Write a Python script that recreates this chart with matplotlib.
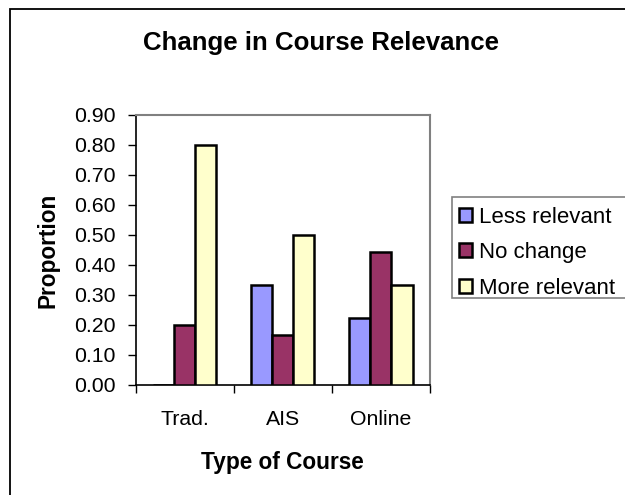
import matplotlib
matplotlib.use("Agg")
import matplotlib.pyplot as plt
from matplotlib.patches import Rectangle
import numpy as np

categories = ["Trad.", "AIS", "Online"]
series_names = ["Less relevant", "No change", "More relevant"]
less_relevant = [0.0, 0.333, 0.222]
no_change = [0.20, 0.167, 0.444]
more_relevant = [0.80, 0.50, 0.333]
yticks = [0.0, 0.1, 0.2, 0.3, 0.4, 0.5, 0.6, 0.7, 0.8, 0.9]

colors = ["#9999FF", "#993366", "#FFFFCC"]

plt.rcParams["font.family"] = ["Liberation Sans", "DejaVu Sans"]

W, H = 625, 495
fig = plt.figure(figsize=(W / 100, H / 100), dpi=100)
fig.patch.set_facecolor("white")

# outer chart border (left and top visible)
fig.patches.append(Rectangle((9.5 / W, -0.2), 1.2, 1.2 - 9 / H,
                             transform=fig.transFigure, fill=False,
                             edgecolor="black", lw=1.3, clip_on=False))

ax = fig.add_axes([135.5 / W, 1 - 385 / H, (430 - 135.5) / W, (385 - 115) / H])

x = np.arange(len(categories))
bw = 0.215
series = [less_relevant, no_change, more_relevant]
for i, (vals, name, c) in enumerate(zip(series, series_names, colors)):
    ax.bar(x + (i - 1) * bw, vals, width=bw, color=c, edgecolor="black",
           linewidth=1.8, label=name, zorder=3)

ax.set_xlim(-0.5, 2.5)
ax.set_ylim(0, 0.9)
ax.set_yticks(yticks)
ax.set_yticklabels([f"{v:.2f}" for v in yticks], fontsize=15.3)
ax.set_xticks([-0.5, 0.5, 1.5, 2.5])
ax.set_xticklabels([])
ax.set_xticks(x, minor=True)
ax.set_xticklabels(categories, minor=True, fontsize=15.3)
ax.tick_params(axis="x", which="minor", length=0, pad=18)
ax.tick_params(axis="x", which="major", length=6, width=1, direction="out", color="black")
ax.tick_params(axis="y", length=6, width=1, direction="out", pad=8.5)

for s in ["left", "bottom"]:
    ax.spines[s].set_color("black")
    ax.spines[s].set_linewidth(1.2)
for s in ["top", "right"]:
    ax.spines[s].set_color("#808080")
    ax.spines[s].set_linewidth(1.5)

ax.set_ylabel("Proportion", fontsize=16.3, fontweight="bold")
ax.yaxis.set_label_coords((59 - 135.5) / 294.5, 0.5)
ax.set_xlabel("Type of Course", fontsize=16.3, fontweight="bold")
ax.xaxis.set_label_coords(0.5, (385 - 451) / 270)

fig.text(321 / W, 1 - 43 / H, "Change in Course Relevance", ha="center", va="center",
         fontsize=18.6, fontweight="bold")

# legend frame (extends past the right edge, as in the reference)
fig.patches.append(Rectangle((452 / W, 1 - 298 / H), 300 / W, 101 / H,
                             transform=fig.transFigure, fill=True,
                             facecolor="white", edgecolor="#808080",
                             lw=1.2, clip_on=False, zorder=1))

handles, labels = ax.get_legend_handles_labels()
leg = fig.legend(handles, labels, loc="upper left",
                 bbox_to_anchor=(452 / W, 1 - 200 / H),
                 fontsize=16, frameon=False,
                 handlelength=0.6, handleheight=0.6,
                 handletextpad=0.3, labelspacing=0.65, borderpad=0.3,
                 borderaxespad=0)
leg.set_zorder(5)

fig.savefig("out.png", dpi=100, facecolor="white")
